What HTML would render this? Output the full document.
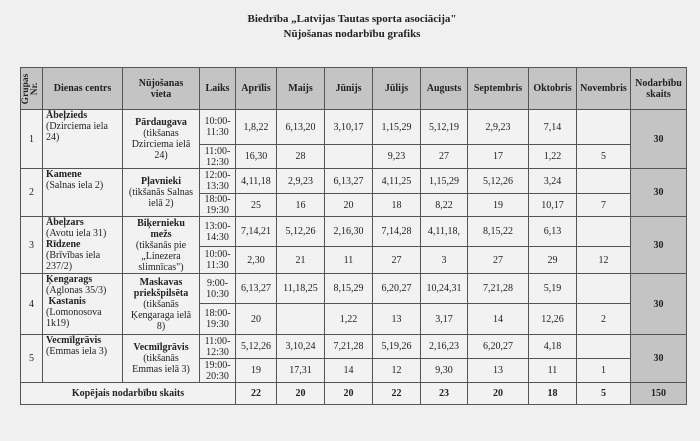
<!DOCTYPE html>
<html><head><meta charset="utf-8"><style>
body{margin:0;background:#f0f0f0;width:700px;height:441px;overflow:hidden;font-family:"Liberation Serif",serif;color:#222}
.t{position:absolute;left:0;width:704px;text-align:center;font-weight:bold;font-size:11px}
table{position:absolute;left:20px;top:67px;width:666px;border-collapse:collapse;table-layout:fixed;font-size:10px}
td{border:1px solid #555;text-align:center;vertical-align:middle;padding:0;line-height:11px;background:#f2f2f2;overflow:hidden}
th{border:1px solid #555;background:#c4c4c4;font-size:10px;line-height:11px;padding:0;overflow:hidden}
td.l{text-align:left;vertical-align:top;padding-left:3px}
td.v{padding:0 6px}
td.g{background:#c4c4c4;font-weight:bold}
.b{font-weight:bold}
.rot{display:block;width:20px;height:40px;position:relative}
.rot span{position:absolute;left:50%;top:50%;transform:translate(-50%,-50%) rotate(-90deg);white-space:nowrap;font-weight:bold;font-size:9.5px;line-height:9px;text-align:center}
</style></head><body>
<div class="t" style="top:13px">Biedrība „Latvijas Tautas sporta asociācija"</div>
<div class="t" style="top:28px">Nūjošanas nodarbību grafiks</div>
<table>
<colgroup><col style="width:22px"><col style="width:80px"><col style="width:77px"><col style="width:36px"><col style="width:41px"><col style="width:48px"><col style="width:48px"><col style="width:48px"><col style="width:47px"><col style="width:61px"><col style="width:48px"><col style="width:54px"><col style="width:56px"></colgroup>
<tr style="height:42px"><th><div class="rot"><span>Grupas<br>Nr.</span></div></th><th>Dienas centrs</th><th>Nūjošanas<br>vieta</th><th>Laiks</th><th>Aprīlis</th><th>Maijs</th><th>Jūnijs</th><th>Jūlijs</th><th>Augusts</th><th>Septembris</th><th>Oktobris</th><th>Novembris</th><th>Nodarbību<br>skaits</th></tr>
<tr style="height:35px"><td rowspan="2">1</td><td rowspan="2" class="l"><span class="b">Ābeļzieds</span><br>(Dzirciema iela 24)</td><td rowspan="2" class="v"><span class="b">Pārdaugava</span><br>(tikšanas Dzirciema ielā 24)</td><td>10:00-<br>11:30</td><td>1,8,22</td><td>6,13,20</td><td>3,10,17</td><td>1,15,29</td><td>5,12,19</td><td>2,9,23</td><td>7,14</td><td></td><td rowspan="2" class="g">30</td></tr>
<tr style="height:24px"><td>11:00-<br>12:30</td><td>16,30</td><td>28</td><td></td><td>9,23</td><td>27</td><td>17</td><td>1,22</td><td>5</td></tr>
<tr style="height:25px"><td rowspan="2">2</td><td rowspan="2" class="l"><span class="b">Kamene</span><br>(Salnas iela 2)</td><td rowspan="2"><span class="b">Pļavnieki</span><br>(tikšanās Salnas ielā 2)</td><td>12:00-<br>13:30</td><td>4,11,18</td><td>2,9,23</td><td>6,13,27</td><td>4,11,25</td><td>1,15,29</td><td>5,12,26</td><td>3,24</td><td></td><td rowspan="2" class="g">30</td></tr>
<tr style="height:23px"><td>18:00-<br>19:30</td><td>25</td><td>16</td><td>20</td><td>18</td><td>8,22</td><td>19</td><td>10,17</td><td>7</td></tr>
<tr style="height:30px"><td rowspan="2">3</td><td rowspan="2" class="l"><span class="b">Ābeļzars</span><br>(Avotu iela 31)<br><span class="b">Rīdzene</span><br>(Brīvības iela 237/2)</td><td rowspan="2" class="v"><span class="b">Biķernieku mežs</span><br>(tikšanās pie „Linezera slimnīcas")</td><td>13:00-<br>14:30</td><td>7,14,21</td><td>5,12,26</td><td>2,16,30</td><td>7,14,28</td><td>4,11,18,</td><td>8,15,22</td><td>6,13</td><td></td><td rowspan="2" class="g">30</td></tr>
<tr style="height:27px"><td>10:00-<br>11:30</td><td>2,30</td><td>21</td><td>11</td><td>27</td><td>3</td><td>27</td><td>29</td><td>12</td></tr>
<tr style="height:30px"><td rowspan="2">4</td><td rowspan="2" class="l"><span class="b">Ķengarags</span><br>(Aglonas 35/3)<br><span class="b">&nbsp;Kastanis</span><br>(Lomonosova 1k19)</td><td rowspan="2" class="v"><span class="b">Maskavas priekšpilsēta</span><br>(tikšanās Ķengaraga ielā 8)</td><td>9:00-<br>10:30</td><td>6,13,27</td><td>11,18,25</td><td>8,15,29</td><td>6,20,27</td><td>10,24,31</td><td>7,21,28</td><td>5,19</td><td></td><td rowspan="2" class="g">30</td></tr>
<tr style="height:31px"><td>18:00-<br>19:30</td><td>20</td><td></td><td>1,22</td><td>13</td><td>3,17</td><td>14</td><td>12,26</td><td>2</td></tr>
<tr style="height:24px"><td rowspan="2">5</td><td rowspan="2" class="l"><span class="b">Vecmīlgrāvis</span><br>(Emmas iela 3)</td><td rowspan="2" class="v"><span class="b">Vecmīlgrāvis</span><br>(tikšanās Emmas ielā 3)</td><td>11:00-<br>12:30</td><td>5,12,26</td><td>3,10,24</td><td>7,21,28</td><td>5,19,26</td><td>2,16,23</td><td>6,20,27</td><td>4,18</td><td></td><td rowspan="2" class="g">30</td></tr>
<tr style="height:24px"><td>19:00-<br>20:30</td><td>19</td><td>17,31</td><td>14</td><td>12</td><td>9,30</td><td>13</td><td>11</td><td>1</td></tr>
<tr style="height:22px"><td colspan="4" class="b">Kopējais nodarbību skaits</td><td class="b">22</td><td class="b">20</td><td class="b">20</td><td class="b">22</td><td class="b">23</td><td class="b">20</td><td class="b">18</td><td class="b">5</td><td class="g">150</td></tr>
</table>
</body></html>
